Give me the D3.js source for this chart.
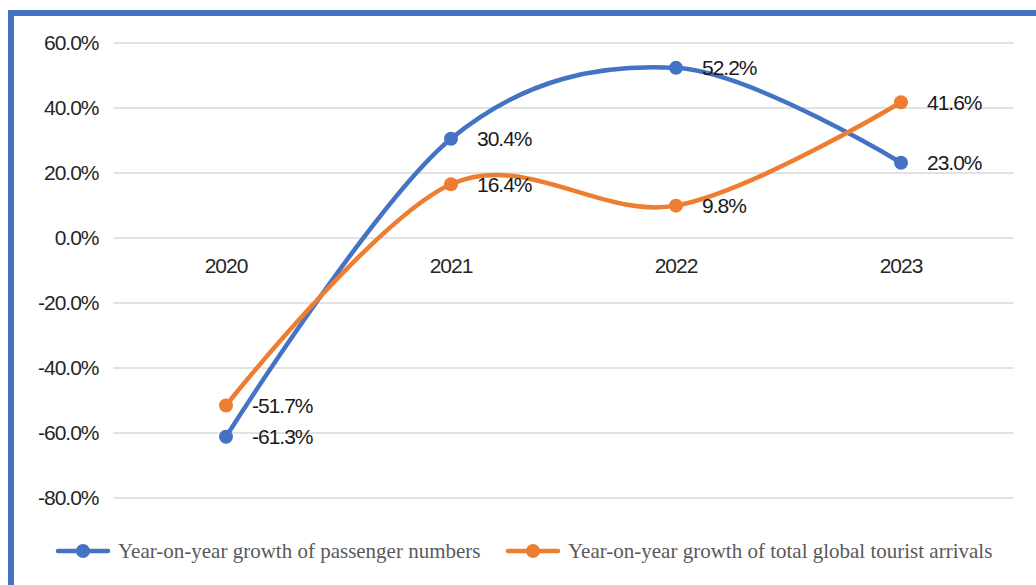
<!DOCTYPE html>
<html>
<head>
<meta charset="utf-8">
<script src="https://cdn.jsdelivr.net/npm/d3@7"></script>
<style>
  html, body { margin: 0; padding: 0; background: #fff; }
  svg { display: block; }
</style>
</head>
<body>
<svg id="chart" width="1036" height="585"></svg>
<script>
// Year-on-year growth, 2020–2023 (percent)
const years = ["2020", "2021", "2022", "2023"];
const passengerGrowth = [-61.3, 30.4, 52.2, 23.0];
const touristGrowth = [-51.7, 16.4, 9.8, 41.6];
const yTicks = [60, 40, 20, 0, -20, -40, -60, -80];
const seriesNames = [
  "Year-on-year growth of passenger numbers",
  "Year-on-year growth of total global tourist arrivals"
];
const seriesColors = ["#4472C4", "#ED7D31"];

const svg = d3.select("#chart");
const W = 1036, H = 585;

// frame: blue rule along the top and left edges
svg.append("rect").attr("x", 8).attr("y", 10).attr("width", W).attr("height", 6).attr("fill", "#4472C4");
svg.append("rect").attr("x", 8).attr("y", 10).attr("width", 6).attr("height", H).attr("fill", "#4472C4");

const plot = { left: 113.5, right: 1013.5, top: 42.5, bottom: 497.5 };

const x = d3.scaleBand().domain(years).range([plot.left, plot.right]);
const y = d3.scaleLinear().domain([-80, 60]).range([plot.bottom, plot.top]);
const cx = d => x(d) + x.bandwidth() / 2;

const labelFont = "'Liberation Sans', Arial, sans-serif";
const pct = d => d3.format(".1f")(d).replace("\u2212", "-") + "%";

// horizontal gridlines + value axis labels
const yAxis = d3.axisLeft(y).tickValues(yTicks)
  .tickSize(-(plot.right - plot.left)).tickPadding(15)
  .tickFormat(pct);
const gy = svg.append("g").attr("transform", `translate(${plot.left},0)`).call(yAxis);
gy.select(".domain").remove();
gy.selectAll(".tick line").attr("stroke", "#d9d9d9").attr("stroke-width", 1.5);
gy.selectAll(".tick text")
  .attr("fill", "#262626")
  .style("font-family", labelFont)
  .style("font-size", "21px")
  .attr("letter-spacing", "-1");

// category labels sit just under the zero line
const xAxis = d3.axisBottom(x).tickSize(0).tickPadding(21);
const gx = svg.append("g").attr("transform", `translate(0,${y(0)})`).call(xAxis);
gx.select(".domain").remove();
gx.selectAll(".tick text")
  .attr("fill", "#262626")
  .style("font-family", labelFont)
  .style("font-size", "21px")
  .attr("letter-spacing", "-1");

const line = d3.line()
  .x((d, i) => cx(years[i]))
  .y(d => y(d))
  .curve(d3.curveCardinal.tension(0));

const allSeries = [passengerGrowth, touristGrowth];

allSeries.forEach((vals, s) => {
  svg.append("path")
    .datum(vals)
    .attr("d", line)
    .attr("fill", "none")
    .attr("stroke", seriesColors[s])
    .attr("stroke-width", 4.5)
    .attr("stroke-linecap", "round");
});

allSeries.forEach((vals, s) => {
  svg.append("g").selectAll("circle")
    .data(vals)
    .join("circle")
    .attr("cx", (d, i) => cx(years[i]))
    .attr("cy", d => y(d))
    .attr("r", 7)
    .attr("fill", seriesColors[s]);

  svg.append("g").selectAll("text")
    .data(vals)
    .join("text")
    .attr("x", (d, i) => cx(years[i]) + 26)
    .attr("y", d => y(d))
    .attr("dy", "0.36em")
    .attr("fill", "#1a1a1a")
    .style("font-family", labelFont)
    .style("font-size", "21px")
    .attr("letter-spacing", "-1")
    .text(pct);
});

// legend
const legendY = 551;
const legendX = [58, 508];
seriesNames.forEach((name, s) => {
  const g = svg.append("g").attr("transform", `translate(${legendX[s]},${legendY})`);
  g.append("line").attr("x1", 0).attr("x2", 50).attr("y1", 0).attr("y2", 0)
    .attr("stroke", seriesColors[s]).attr("stroke-width", 4.5).attr("stroke-linecap", "round");
  g.append("circle").attr("cx", 25).attr("cy", 0).attr("r", 7).attr("fill", seriesColors[s]);
  g.append("text").attr("x", 60).attr("y", 0).attr("dy", "0.35em")
    .attr("fill", "#595959")
    .style("font-family", "'Liberation Serif', 'Times New Roman', serif")
    .style("font-size", "21px")
    .text(name);
});
</script>
</body>
</html>
